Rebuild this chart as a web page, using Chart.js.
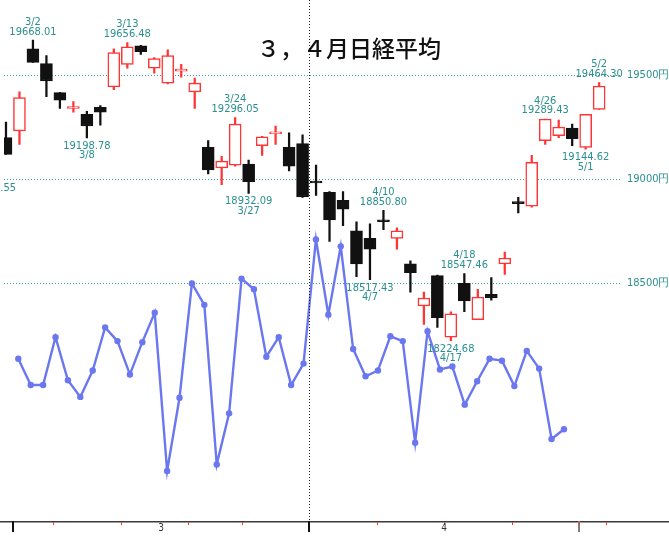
<!DOCTYPE html>
<html><head><meta charset="utf-8">
<script src="https://cdn.jsdelivr.net/npm/chart.js"></script>
<style>html,body{margin:0;padding:0;background:#fff;}#wrap{width:669px;height:538px;position:relative;}</style>
</head><body><div id="wrap"><canvas id="c"></canvas></div>
<script>
const chartTitle = '３，４月日経平均';
const days   = [0,1,2,3,4,5,6,7,8,9,10,11,12,13,14,15,16,17,18,19,20,21,22,23,24,25,26,27,28,29,30,31,32,33,34,35,36,37,38,39,40,41,42,43,44,45];
const opens  = [19080,19200,19232,19627,19556,19416,19340,19312,19345,19444,19552,19641,19533,19462,19519,19420,19153,19054,19068,19073,19162,19218,19153,19171,18986,18937,18899,18753,18716,18800,18716,18594,18392,18538,18242,18500,18326,18448,18594,18887,18871,19186,19209,19246,19153,19336];
const highs  = [19120,19275,19420,19668.01,19594,19418,19373,19326,19354,19627,19656.48,19643,19585,19622,19552,19486,19186,19110,19296.05,19092,19206,19256,19223,19214,19068,18941,18941,18796,18786,18850.80,18767,18608,18458,18540,18364,18547.46,18472,18528,18650,18913,19115,19289.43,19284,19265,19312,19464.30];
const lows   = [18993.55,19120,19167,19561,19397,19340,19322,19198.78,19260,19430,19533,19599,19509,19458,19490,19340,19026,18974,19063,18932.09,19115,19167,19040,18913,18923,18702,18777,18533,18517.43,18758,18664,18458,18303,18289,18224.68,18364,18326,18420,18543,18838,18866,19167,19200,19162,19144.62,19336];
const closes = [19030,19120,19392,19561,19472,19380,19344,19256,19322,19608,19636,19613,19580,19594,19522,19462,19045,19087,19265,18988,19204,19221,19063,18915,18982,18805,18857,18594,18664,18796,18753,18552,18430,18336,18354,18416,18434,18430,18622,18883,19082,19289.43,19251,19195,19312,19448];

const noteDays  = [0,3,7,10,18,19,28,29,34,35,41,44,45];
const noteDates = ['','3/2','3/8','3/13','3/24','3/27','4/7','4/10','4/17','4/18','4/26','5/1','5/2'];
const noteSides = ['below','above','below','above','above','below','below','above','below','above','above','below','above'];

const lineDays   = [1,2,3,4,5,6,7,8,9,10,11,12,13,14,15,16,17,18,19,20,21,22,23,24,25,26,27,28,29,30,31,32,33,34,35,36,37,38,39,40,41,42,43,44,45];
const lineValues = [18138,18012,18012,18242,18035,17955,18082,18289,18223,18063,18218,18359,17599,17951,18500,18397,17631,17876,18523,18472,18148,18242,18012,18115,18711,18350,18678,18185,18054,18082,18246,18223,17735,18270,18087,18101,17918,18030,18138,18129,18007,18176,18091,17753,17800];

const priceTicks   = [18500,19000,19500];
const monthLabels  = ['3','4'];
const monthCenters = [12.5,33.5];
const monthBounds  = [1.5,23.5,43.5];
const separators   = [23.5];
const weekBounds   = [4.5,9.5,14.5,18.5,28.5,33.5,38.5,43.5,45.5];

const RED = '#ff3535', BLACK = '#111111', TEAL = '#2b8f8f', BLUE = '#6b77ef';
const NOTE_FONT = "11px 'Liberation Sans Narrow','DejaVu Sans Condensed','DejaVu Sans Mono',monospace";
const isUp = i => closes[i] >= opens[i];

const decor = {
  id: 'decor',
  afterDatasetsDraw(chart) {
    const {ctx, chartArea: a, scales: {x, y}} = chart;
    ctx.save();
    ctx.strokeStyle = '#222'; ctx.lineWidth = 1; ctx.setLineDash([1,2]);
    separators.forEach(v => {
      const px = Math.round(x.getPixelForValue(v)) + 0.5;
      ctx.beginPath(); ctx.moveTo(px, 0); ctx.lineTo(px, a.bottom); ctx.stroke();
    });
    ctx.setLineDash([]);
    ctx.font = NOTE_FONT; ctx.fillStyle = TEAL; ctx.textAlign = 'center'; ctx.textBaseline = 'middle';
    noteDays.forEach((d, k) => {
      const i = days.indexOf(d);
      const px = x.getPixelForValue(d);
      if (noteSides[k] === 'above') {
        const py = y.getPixelForValue(highs[i]);
        ctx.fillText(highs[i].toFixed(2), px, py - 8.5);
        ctx.fillText(noteDates[k], px, py - 18);
      } else {
        const py = y.getPixelForValue(lows[i]);
        ctx.fillText(lows[i].toFixed(2), px, py + 8);
        ctx.fillText(noteDates[k], px, py + 17.5);
      }
    });
    ctx.restore();
  },
  afterDraw(chart) {
    const {ctx, chartArea: a, scales: {x}} = chart;
    const W = chart.width;
    ctx.save();
    ctx.font = "500 23px 'Noto Sans CJK JP'"; ctx.fillStyle = '#111';
    ctx.textAlign = 'center'; ctx.textBaseline = 'middle';
    ctx.fillText(chartTitle, 349, 48);
    const by = a.bottom;
    ctx.strokeStyle = '#3a3a3a'; ctx.lineWidth = 1.5;
    ctx.beginPath(); ctx.moveTo(0, by + 0.75); ctx.lineTo(W, by + 0.75); ctx.stroke();
    monthBounds.forEach((v, k) => {
      const px = Math.round(x.getPixelForValue(v));
      ctx.strokeStyle = k === monthBounds.length - 1 ? '#808080' : '#111';
      ctx.lineWidth = 2;
      ctx.beginPath(); ctx.moveTo(px, by); ctx.lineTo(px, by + 11); ctx.stroke();
    });
    ctx.strokeStyle = RED; ctx.lineWidth = 1;
    weekBounds.forEach(v => {
      const px = Math.round(x.getPixelForValue(v)) + 0.5;
      ctx.beginPath(); ctx.moveTo(px, by + 1); ctx.lineTo(px, by + 4); ctx.stroke();
    });
    ctx.font = "10px 'Liberation Sans Narrow','DejaVu Sans Condensed',sans-serif";
    ctx.fillStyle = '#333'; ctx.textAlign = 'center'; ctx.textBaseline = 'middle';
    monthLabels.forEach((t, k) => ctx.fillText(t, x.getPixelForValue(monthCenters[k]), by + 7));
    ctx.restore();
  }
};

new Chart(document.getElementById('c'), {
  type: 'bar',
  data: {
    datasets: [
      {
        label: 'body',
        data: days.map((d, i) => ({x: d, y: [Math.min(opens[i], closes[i]), Math.max(opens[i], closes[i])]})),
        xAxisID: 'x', yAxisID: 'y',
        grouped: false, barThickness: 12, minBarLength: 2,
        backgroundColor: c => isUp(c.dataIndex) ? '#ffffff' : BLACK,
        borderColor: c => isUp(c.dataIndex) ? RED : BLACK,
        borderWidth: 1.5, borderSkipped: false, order: 0
      },
      {
        label: 'wick',
        data: days.map((d, i) => ({x: d, y: [lows[i], highs[i]]})),
        xAxisID: 'x', yAxisID: 'y',
        grouped: false, barThickness: 1.6,
        backgroundColor: c => isUp(c.dataIndex) ? RED : BLACK,
        borderWidth: 0, order: 1
      },
      {
        type: 'line', label: 'line',
        data: lineDays.map((d, i) => ({x: d, y: lineValues[i]})),
        xAxisID: 'x2', yAxisID: 'y',
        borderColor: BLUE, borderWidth: 2.4, tension: 0,
        pointRadius: 3.2, pointBackgroundColor: BLUE, pointBorderWidth: 0,
        order: 2
      }
    ]
  },
  options: {
    responsive: true, maintainAspectRatio: false, animation: false,
    layout: {padding: {left: 0, right: 0, top: 0, bottom: 17}},
    plugins: {legend: {display: false}, tooltip: {enabled: false}, title: {display: false}},
    scales: {
      x:  {type: 'linear', display: false, offset: false, bounds: 'data', min: 0.853, max: 46.695},
      x2: {type: 'linear', display: false, offset: false, bounds: 'data', min: -0.154, max: 49.68},
      y: {
        position: 'right', min: 17359.2, max: 19805.2,
        afterBuildTicks: s => { s.ticks = priceTicks.map(v => ({value: v})); },
        afterFit: s => { s.width = 47; },
        ticks: {callback: v => v + '円', color: TEAL, padding: 5,
                font: {family: "'Liberation Sans Narrow','DejaVu Sans Condensed','DejaVu Sans Mono',monospace", size: 11}},
        grid: {color: '#3aa3a0', lineWidth: 1, drawTicks: false, borderDash: [1,2]},
        border: {display: false, dash: [1,2]}
      }
    }
  },
  plugins: [decor]
});
</script>
</body></html>
